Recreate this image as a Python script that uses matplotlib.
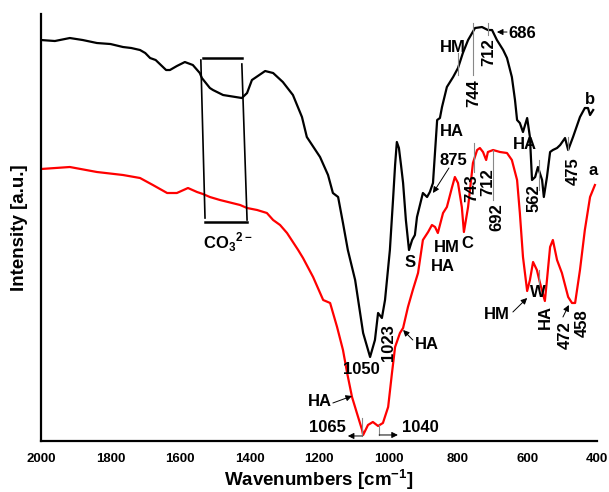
import matplotlib.pyplot as plt
import numpy as np

plt.rcParams['font.family'] = ['Liberation Sans', 'DejaVu Sans']
plt.rcParams['font.weight'] = 'bold'
plt.rcParams['mathtext.fontset'] = 'custom'
plt.rcParams['mathtext.rm'] = 'Liberation Sans:bold'
plt.rcParams['mathtext.bf'] = 'Liberation Sans:bold'

# spectrum b (black)
wn_b = [2000, 1960, 1917, 1880, 1839, 1800, 1764, 1740, 1715, 1700, 1686, 1670,
        1649, 1640, 1629, 1609, 1586, 1563, 1543,
        1537, 1514, 1505, 1476, 1422, 1407, 1393, 1355, 1332, 1304, 1275, 1249,
        1235, 1197, 1174, 1160, 1145, 1131, 1117, 1096, 1073, 1053, 1039, 1030,
        1019, 1010, 996, 987, 981, 976, 970, 964, 958, 950, 941, 932, 924, 918,
        901, 889, 881, 872, 860, 852, 846, 832, 814, 800, 786, 771, 751, 731,
        714, 702, 688, 670, 659, 645, 636, 630, 622, 613, 601, 593, 587, 578,
        570, 558, 553, 544, 535, 527, 515, 506, 492, 483, 469, 449, 435, 426,
        420, 411]
int_b = [401, 400, 403, 401, 398, 397, 394, 393, 391, 388, 383, 381,
         374, 371, 371, 375, 379, 376, 368,
         363, 353, 351, 346, 343, 348, 361, 370, 368, 359, 346, 324,
         304, 284, 266, 248, 244, 218, 191, 161, 108, 84, 101, 128,
         123, 141, 191, 241, 276, 299, 293, 276, 258, 221, 191, 201, 206, 224,
         248, 244, 249, 258, 321, 323, 334, 354, 364, 373, 388, 401, 413, 414,
         411, 411, 401, 391, 383, 364, 341, 321, 318, 309, 323, 304, 261, 264,
         274, 261, 244, 264, 289, 291, 293, 296, 303, 291, 304, 324, 333, 333,
         326, 331]

# spectrum a (red)
wn_a = [2000, 1917, 1839, 1764, 1715, 1678, 1637, 1609, 1577, 1551, 1534, 1514,
        1485, 1427, 1407, 1378, 1350, 1332, 1312, 1292, 1260, 1246, 1217, 1188,
        1168, 1148, 1131, 1119, 1105, 1091, 1076, 1073, 1059, 1045, 1030, 1016,
        1001, 990, 981, 967, 958, 944, 930, 915, 901, 886, 875, 866, 858, 843,
        832, 817, 809, 800, 789, 783, 771, 757, 745, 737, 728, 719, 714, 699,
        679, 659, 645, 630, 622, 613, 601, 593, 584, 573, 564, 550, 544, 535,
        527, 515, 501, 483, 472, 463, 449, 435, 420, 406]
int_a = [272, 274, 269, 266, 263, 256, 248, 248, 253, 249, 247, 244,
         241, 236, 233, 231, 228, 221, 216, 208, 191, 183, 164, 141,
         138, 114, 91, 68, 44, 28, 11, 6, 16, 19, 15, 18,
         34, 68, 94, 108, 113, 134, 151, 168, 201, 209, 216, 214, 208, 228,
         234, 254, 264, 258, 234, 209, 234, 278, 291, 293, 289, 281, 289, 291,
         289, 288, 281, 261, 228, 184, 150, 161, 179, 171, 158, 140, 161, 194,
         201, 181, 168, 144, 138, 138, 171, 211, 244, 256]

x_ticks = [2000, 1800, 1600, 1400, 1200, 1000, 800, 600, 400]

fig = plt.figure(figsize=(6.09, 4.92), dpi=100)
ax = fig.add_axes([0.0673, 0.1037, 0.9130, 0.8678])

ax.plot(wn_b, int_b, color='black', lw=1.6)
ax.plot(wn_a, int_a, color='red', lw=1.6)

ax.set_xlim(2000, 400)
ax.set_ylim(0, 427)
ax.set_xticks(x_ticks)
ax.set_xticklabels([str(t) for t in x_ticks], fontsize=9.5, fontweight='bold')
ax.set_yticks([])
ax.tick_params(axis='x', length=0, pad=9)
for side in ['top', 'right']:
    ax.spines[side].set_visible(False)
for side in ['left', 'bottom']:
    ax.spines[side].set_linewidth(1.6)

ax.set_xlabel('Wavenumbers [cm$^{-1}$]', fontsize=13.5, fontweight='bold', labelpad=1)
ax.set_ylabel('Intensity [a.u.]', fontsize=13.5, fontweight='bold', labelpad=9)

fs = 12
grey = '#888888'


def label(x, y, s, rot=0, ha='center'):
    ax.text(x, y, s, fontsize=fs, fontweight='bold', rotation=rot,
            ha=ha, va='center')


def marker(x, y0, y1):
    ax.plot([x, x], [y0, y1], color=grey, lw=0.8)


def arrow(x0, y0, x1, y1):
    ax.annotate('', xy=(x1, y1), xytext=(x0, y0),
                arrowprops=dict(arrowstyle='-|>', color='black', lw=0.7,
                                mutation_scale=9, shrinkA=0, shrinkB=0))


# CO3 box
ax.plot([1534, 1422], [383, 383], color='black', lw=1.8)
ax.plot([1528, 1407], [219, 219], color='black', lw=1.8)
ax.plot([1540, 1528], [381, 223], color='black', lw=1.2)
ax.plot([1422, 1407], [377, 221], color='black', lw=1.2)
label(1462, 199, 'CO$_3$$^{2-}$')

# black spectrum labels
marker(800, 366, 388)
label(814, 394, 'HM')
marker(757, 366, 418)
label(754, 348, '744', rot=90)
marker(714, 406, 418)
label(711, 389, '712', rot=90)
label(656, 408, '686', ha='left')
arrow(659, 409, 688, 409)
label(817, 310, 'HA')
label(814, 281, '875')
arrow(826, 273, 872, 248)
label(938, 178, 'S')
label(607, 297, 'HA')
marker(567, 251, 281)
label(581, 243, '562', rot=90)
marker(483, 291, 304)
label(469, 270, '475', rot=90)
label(420, 342, 'b')
label(1079, 71, '1050')
label(1001, 98, '1023', rot=90)

# red spectrum labels
label(411, 271, 'a')
label(832, 193, 'HM')
label(774, 197, 'C')
label(843, 174, 'HA')
marker(754, 269, 298)
label(760, 253, '743', rot=90)
label(714, 259, '712', rot=90)
marker(699, 241, 291)
label(688, 224, '692', rot=90)
label(889, 96, 'HA')
arrow(930, 101, 958, 111)
label(1197, 39, 'HA')
arrow(1160, 38, 1105, 45)
label(1177, 13, '1065')
ax.plot([1076, 1076], [23, 5], color=grey, lw=0.8)
arrow(1076, 5, 1117, 5)
label(909, 13, '1040')
ax.plot([1027, 1027], [16, 6], color=grey, lw=0.8)
arrow(1027, 6, 973, 6)
label(688, 126, 'HM')
arrow(642, 129, 601, 143)
marker(567, 148, 171)
label(570, 148, 'W')
label(550, 124, 'HA', rot=90)
label(492, 106, '472', rot=90)
label(443, 118, '458', rot=90)
arrow(498, 124, 481, 136)

plt.savefig('out.png', dpi=100)
